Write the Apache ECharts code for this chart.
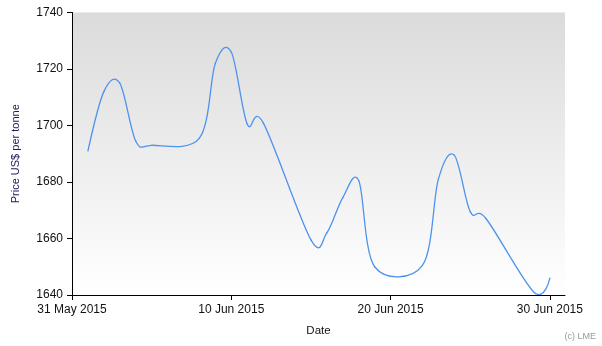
<!DOCTYPE html>
<html><head><meta charset="utf-8">
<script src="https://cdn.jsdelivr.net/npm/echarts@6/dist/echarts.min.js"></script>
<style>html,body{margin:0;padding:0;background:#fff}#c{width:602px;height:346px}</style>
</head><body><div id="c"></div>
<script>
var dates = ['2015-06-01','2015-06-02','2015-06-03','2015-06-04','2015-06-05',
             '2015-06-08','2015-06-09','2015-06-10','2015-06-11','2015-06-12',
             '2015-06-15','2015-06-16','2015-06-17','2015-06-18','2015-06-19',
             '2015-06-22','2015-06-23','2015-06-24','2015-06-25','2015-06-26',
             '2015-06-29','2015-06-30'];
var prices = [1691, 1712, 1715, 1694.5, 1693,
              1695.5, 1722, 1726, 1700.5, 1701,
              1659.5, 1662, 1674.5, 1680.5, 1650,
              1650.5, 1681, 1689.5, 1669.5, 1667,
              1641, 1646];
var yTicks = [1640, 1660, 1680, 1700, 1720, 1740];
var xTickDates = ['2015-05-31','2015-06-10','2015-06-20','2015-06-30'];

var DAY = 86400000;
function ms(s){ var p = s.split('-'); return Date.UTC(+p[0], +p[1]-1, +p[2]); }
var MONTHS = ['Jan','Feb','Mar','Apr','May','Jun','Jul','Aug','Sep','Oct','Nov','Dec'];
var data = dates.map(function(d,i){ return [ms(d), prices[i]]; });
var xMin = ms(xTickDates[0]);
var xMax = xMin + 30.95 * DAY;
var K = 1/6; // cardinal spline (Catmull-Rom) handle factor

function renderSegment(params, api) {
  var i = params.dataIndex;
  if (i === 0) return null;
  var n = data.length;
  var p0 = api.coord(data[Math.max(i-2,0)]);
  var p1 = api.coord(data[i-1]);
  var p2 = api.coord(data[i]);
  var p3 = api.coord(data[Math.min(i+1,n-1)]);
  var c1x, c1y, c2x, c2y;
  if (i-1 === 0) { c1x = p1[0]; c1y = p1[1]; }
  else { c1x = p1[0] + K*(p2[0]-p0[0]); c1y = p1[1] + K*(p2[1]-p0[1]); }
  if (i === n-1) { c2x = p2[0]; c2y = p2[1]; }
  else { c2x = p2[0] - K*(p3[0]-p1[0]); c2y = p2[1] - K*(p3[1]-p1[1]); }
  return {
    type: 'bezierCurve',
    shape: {x1:p1[0], y1:p1[1], cpx1:c1x, cpy1:c1y, cpx2:c2x, cpy2:c2y, x2:p2[0], y2:p2[1]},
    style: {stroke:'#4d93ee', lineWidth:1.3, fill:null, lineCap:'round'}
  };
}

var chart = echarts.init(document.getElementById('c'), null, {renderer:'canvas'});
chart.setOption({
  animation: false,
  grid: {
    left: 72, top: 12.5, right: 37, bottom: 51,
    show: true, borderWidth: 0,
    backgroundColor: new echarts.graphic.LinearGradient(0,0,0,1,[
      {offset:0, color:'#dbdbdb'},{offset:1, color:'#ffffff'}])
  },
  xAxis: {
    type: 'value',
    min: xMin, max: xMax, interval: 10 * DAY,
    name: 'Date', nameLocation: 'middle', nameGap: 30,
    nameTextStyle: {color:'#111', fontFamily:'Liberation Sans', fontSize: 11.5},
    axisLine: {show:true, onZero:false, lineStyle:{color:'#000', width:1}},
    axisTick: {show:true, length:5, lineStyle:{color:'#000'}},
    splitLine: {show:false},
    axisLabel: {
      color:'#111', fontFamily:'Liberation Sans', fontSize:12, margin:9,
      showMaxLabel:false,
      formatter: function(v){ var d = new Date(v); return d.getUTCDate()+' '+MONTHS[d.getUTCMonth()]+' '+d.getUTCFullYear(); }
    }
  },
  yAxis: {
    type: 'value',
    min: yTicks[0], max: yTicks[yTicks.length-1], interval: yTicks[1]-yTicks[0],
    name: 'Price US$ per tonne', nameLocation: 'middle', nameGap: 51, nameRotate: 90,
    nameTextStyle: {color:'#1a1a5c', fontFamily:'Liberation Sans', fontSize: 11},
    axisLine: {show:true, lineStyle:{color:'#000', width:1}},
    axisTick: {show:true, length:5, lineStyle:{color:'#000'}},
    splitLine: {show:false},
    axisLabel: {color:'#111', fontFamily:'Liberation Sans', fontSize:12, margin:9,
      formatter: function(v){ return String(v); }}
  },
  series: [{
    type: 'custom',
    data: data,
    encode: {x:0, y:1},
    renderItem: renderSegment,
    clip: true,
    z: 3
  }],
  graphic: [{
    type:'text', right: 6, top: 332,
    style: {text:'(c) LME', fill:'#999', font:'9px "Liberation Sans"'}
  }]
});
</script></body></html>
